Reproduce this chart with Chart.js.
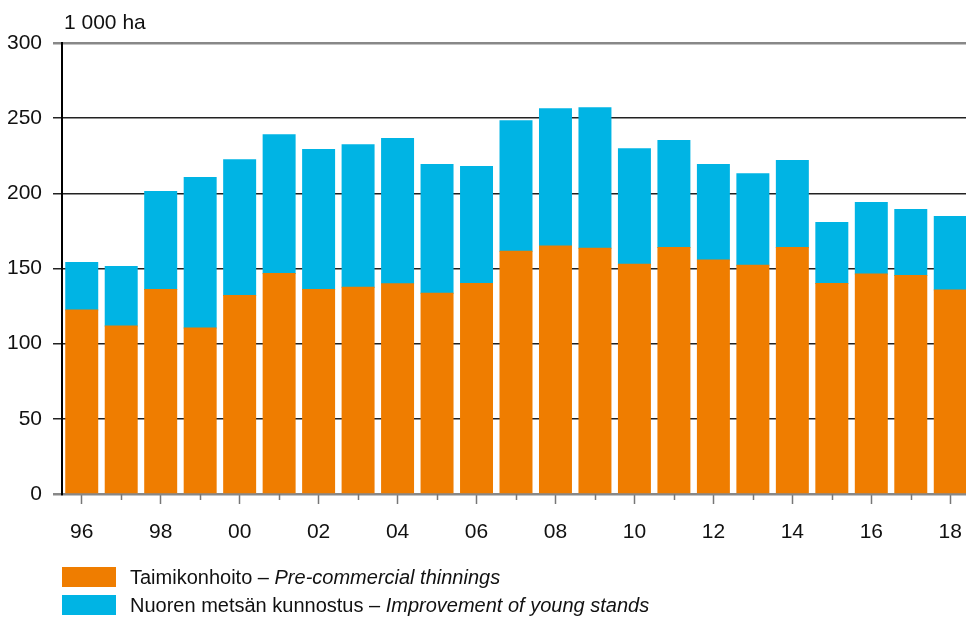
<!DOCTYPE html>
<html>
<head>
<meta charset="utf-8">
<script src="https://cdn.jsdelivr.net/npm/chart.js@4/dist/chart.umd.min.js"></script>
<style>
  html, body { margin: 0; padding: 0; background: #fff; overflow: hidden; width: 966px; height: 620px; }
  #wrap { position: absolute; left: 0; top: 0; width: 970px; height: 620px; }
  .leg { position: absolute; left: 62px; font-family: "Liberation Sans", Arial, sans-serif; font-size: 20px; color: #111; white-space: nowrap; }
  .sw { position: absolute; left: 0; width: 54px; height: 20px; }
  .lt { position: absolute; left: 68px; top: -1px; }
</style>
</head>
<body>
<div id="wrap"><canvas id="c" width="970" height="620" style="width:970px;height:620px"></canvas></div>
<div class="leg" style="top:567px;"><div class="sw" style="background:#EF7D00"></div><div class="lt">Taimikonhoito – <i>Pre-commercial thinnings</i></div></div>
<div class="leg" style="top:595px;"><div class="sw" style="background:#00B4E4"></div><div class="lt">Nuoren metsän kunnostus – <i>Improvement of young stands</i></div></div>
<script>
const years = [1996,1997,1998,1999,2000,2001,2002,2003,2004,2005,2006,2007,2008,2009,2010,2011,2012,2013,2014,2015,2016,2017,2018];
const preCommercial = [122.4,111.8,136.1,110.4,132.1,146.7,136.1,137.5,139.9,133.5,140.1,161.4,164.9,163.5,152.9,164.0,155.6,152.1,164.0,140.1,146.3,145.4,135.7];
const improvement = [31.6,39.6,65.1,100.1,90.3,92.3,93.0,94.9,96.5,85.6,77.7,86.9,91.4,93.5,76.8,71.1,63.5,61.0,57.8,40.5,47.6,43.8,48.9];
const seriesNames = ["Taimikonhoito – Pre-commercial thinnings", "Nuoren metsän kunnostus – Improvement of young stands"];
const yTicks = [0,50,100,150,200,250,300];
const unitLabel = "1 000 ha";

const FONT = "'Liberation Sans', Arial, sans-serif";

const extras = {
  id: 'extras',
  afterDraw(chart) {
    const ctx = chart.ctx;
    const xs = chart.scales.x;
    const area = chart.chartArea;
    ctx.save();
    ctx.strokeStyle = '#777';
    ctx.lineWidth = 1.5;
    years.forEach((y, i) => {
      if (i % 2 === 1) {
        const px = Math.round(xs.getPixelForTick(i)) + 0.5;
        ctx.beginPath();
        ctx.moveTo(px, area.bottom);
        ctx.lineTo(px, area.bottom + 6);
        ctx.stroke();
      }
    });
    ctx.fillStyle = '#111';
    ctx.font = "21px " + FONT;
    ctx.textBaseline = 'alphabetic';
    ctx.textAlign = 'left';
    ctx.fillText(unitLabel, 64, 29);
    ctx.restore();
  }
};

new Chart(document.getElementById('c'), {
  type: 'bar',
  data: {
    labels: years,
    datasets: [
      { label: seriesNames[0], data: preCommercial, backgroundColor: '#EF7D00', borderWidth: 0, inflateAmount: 0.5 },
      { label: seriesNames[1], data: improvement, backgroundColor: '#00B4E4', borderWidth: 0, inflateAmount: 0.5 }
    ]
  },
  options: {
    responsive: false,
    animation: false,
    devicePixelRatio: 1,
    layout: { padding: { top: 43, right: 0, bottom: 70, left: 0 } },
    plugins: { legend: { display: false }, tooltip: { enabled: false }, title: { display: false } },
    datasets: { bar: { barPercentage: 0.81, categoryPercentage: 1.0 } },
    scales: {
      x: {
        stacked: true,
        afterFit: s => { s.height = 56; s.paddingLeft = 0; s.paddingRight = 0; },
        border: { display: true, color: '#888', width: 2 },
        grid: {
          display: true, drawOnChartArea: false, drawTicks: true, offset: false, tickLength: 10,
          tickWidth: 1.5,
          tickColor: c => (c.index % 2 === 0 ? '#777' : 'rgba(0,0,0,0)')
        },
        ticks: {
          autoSkip: false, maxRotation: 0, minRotation: 0, padding: 16,
          color: '#111', font: { family: FONT, size: 21 },
          callback: function(v, i) { const y = years[i]; return (y % 2 === 0) ? String(y).slice(2) : ''; }
        }
      },
      y: {
        stacked: true,
        min: 0, max: 300,
        afterFit: s => { s.width = 62; s.paddingTop = 0; s.paddingBottom = 0; },
        afterBuildTicks: s => { s.ticks = yTicks.map(v => ({ value: v })); },
        border: { display: true, color: '#000', width: 2 },
        grid: {
          drawTicks: true, tickLength: 9,
          color: c => (c.tick && (c.tick.value === 300 || c.tick.value === 0)) ? '#888' : '#222',
          lineWidth: c => (c.tick && (c.tick.value === 300 || c.tick.value === 0)) ? 2.5 : 1.5
        },
        ticks: { padding: 11, color: '#111', font: { family: FONT, size: 21 } }
      }
    }
  },
  plugins: [extras]
});
</script>
</body>
</html>
